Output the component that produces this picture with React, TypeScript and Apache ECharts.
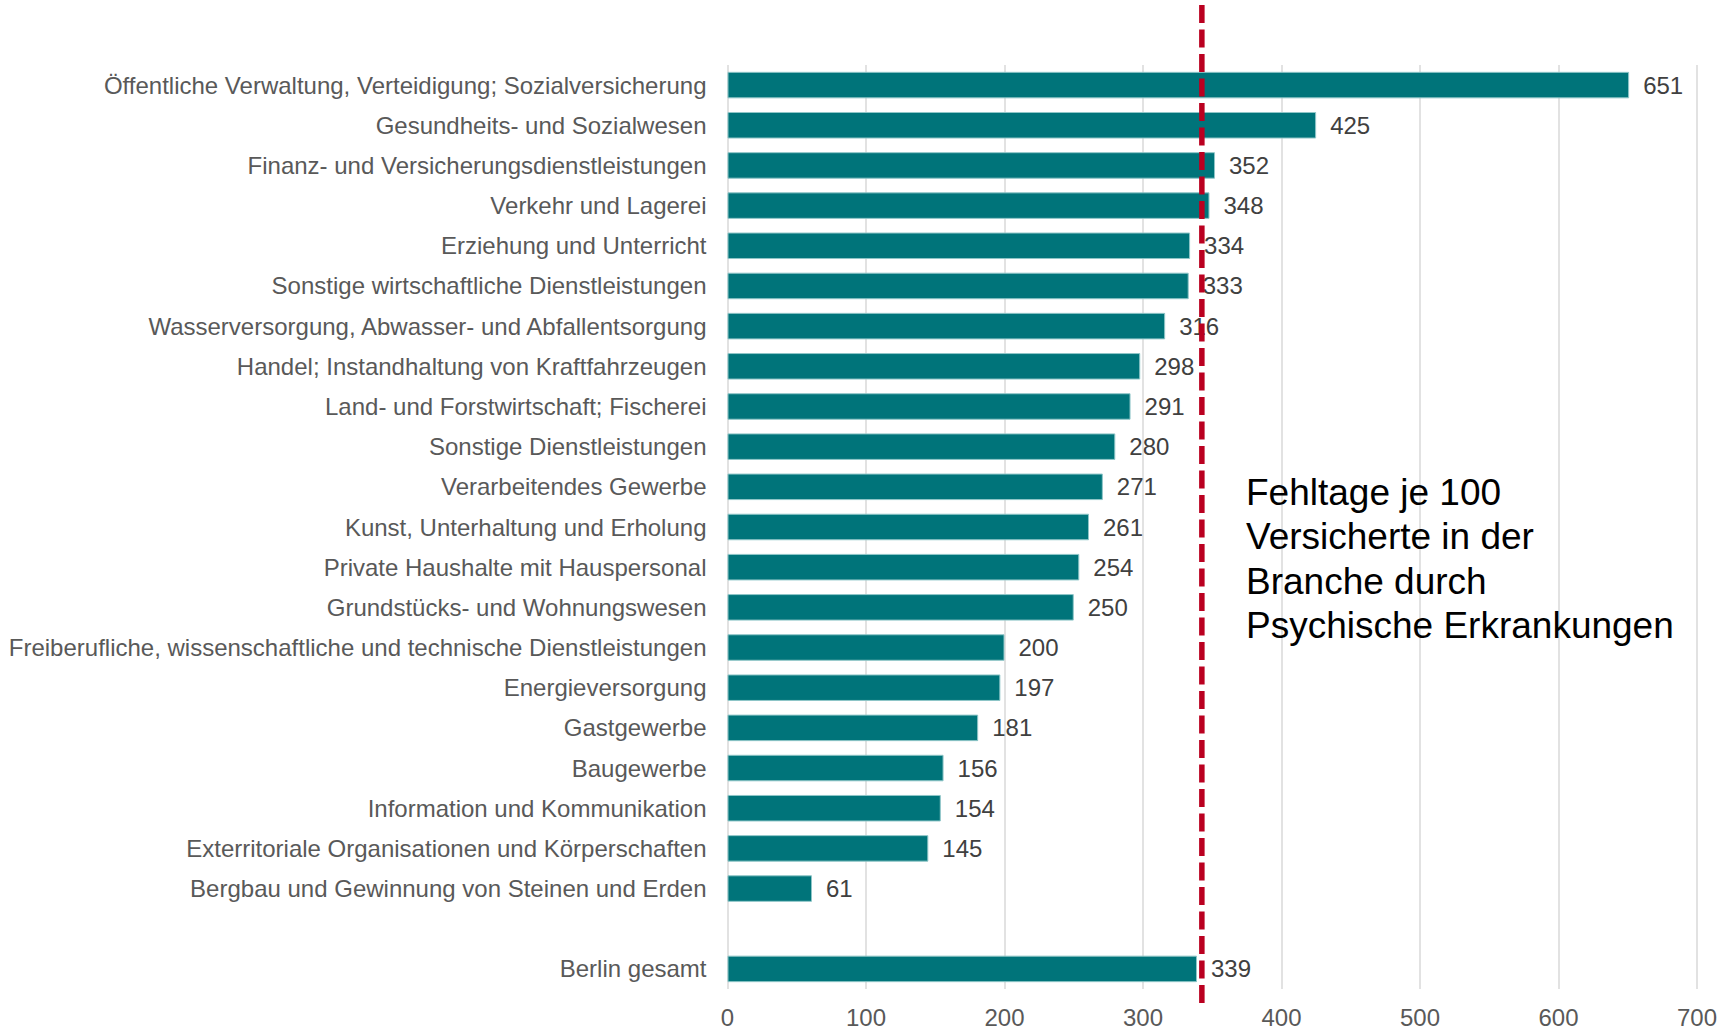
import React, { useEffect, useRef } from "react";
import * as echarts from "echarts";

// Branchen, sortiert nach Fehltagen; leerer Eintrag trennt "Berlin gesamt" ab
const categories: string[] = [
  "Öffentliche Verwaltung, Verteidigung; Sozialversicherung",
  "Gesundheits- und Sozialwesen",
  "Finanz- und Versicherungsdienstleistungen",
  "Verkehr und Lagerei",
  "Erziehung und Unterricht",
  "Sonstige wirtschaftliche Dienstleistungen",
  "Wasserversorgung, Abwasser- und Abfallentsorgung",
  "Handel; Instandhaltung von Kraftfahrzeugen",
  "Land- und Forstwirtschaft; Fischerei",
  "Sonstige Dienstleistungen",
  "Verarbeitendes Gewerbe",
  "Kunst, Unterhaltung und Erholung",
  "Private Haushalte mit Hauspersonal",
  "Grundstücks- und Wohnungswesen",
  "Freiberufliche, wissenschaftliche und technische Dienstleistungen",
  "Energieversorgung",
  "Gastgewerbe",
  "Baugewerbe",
  "Information und Kommunikation",
  "Exterritoriale Organisationen und Körperschaften",
  "Bergbau und Gewinnung von Steinen und Erden",
  "",
  "Berlin gesamt",
];

// Fehltage je 100 Versicherte durch psychische Erkrankungen
const fehltage: (number | null)[] = [
  651, 425, 352, 348, 334, 333, 316, 298, 291, 280, 271, 261, 254, 250, 200,
  197, 181, 156, 154, 145, 61, null, 339,
];

const axisMin = 0;
const axisMax = 700;
const axisInterval = 100;

// Position der gestrichelten Vergleichslinie
const referenceValue = 342.5;

const annotationLines: string[] = [
  "Fehltage je 100",
  "Versicherte in der",
  "Branche durch",
  "Psychische Erkrankungen",
];

const FONT = "'Liberation Sans', Arial, Helvetica, sans-serif";

export default function App() {
  const ref = useRef<HTMLDivElement>(null);

  useEffect(() => {
    if (!ref.current) return;
    const chart = echarts.init(ref.current, undefined, { renderer: "svg" });

    chart.setOption({
      animation: false,
      backgroundColor: "#ffffff",
      textStyle: { fontFamily: FONT },
      grid: { left: 727.5, right: 30, top: 65, bottom: 39, containLabel: false },
      xAxis: {
        type: "value",
        min: axisMin,
        max: axisMax,
        interval: axisInterval,
        axisLine: { show: false },
        axisTick: { show: false },
        splitLine: { show: true, lineStyle: { color: "#D9D9D9", width: 1.5 } },
        axisLabel: {
          color: "#595959",
          fontSize: 24,
          fontFamily: FONT,
          margin: 16,
        },
      },
      yAxis: {
        type: "category",
        data: categories,
        inverse: true,
        axisLine: { show: false },
        axisTick: { show: false },
        splitLine: { show: false },
        axisLabel: {
          color: "#595959",
          fontSize: 24,
          fontFamily: FONT,
          margin: 21,
          interval: 0,
        },
      },
      series: [
        {
          type: "bar",
          data: fehltage,
          barWidth: "66%",
          itemStyle: {
            color: "#00747A",
            borderColor: "#8fc6c8",
            borderWidth: 1,
          },
          label: {
            show: true,
            position: "right",
            distance: 14,
            color: "#404040",
            fontSize: 24,
            fontFamily: FONT,
          },
        },
      ],
    });

    const lineX = chart.convertToPixel({ xAxisIndex: 0 }, referenceValue) as number;

    chart.setOption({
      graphic: [
        {
          type: "line",
          z: 100,
          shape: { x1: lineX, y1: 5, x2: lineX, y2: 1008 },
          style: { stroke: "#BA0020", lineWidth: 5.5, lineDash: [18, 6.5] },
        },
        {
          type: "text",
          z: 100,
          x: 1246,
          y: 470,
          style: {
            text: annotationLines.join("\n"),
            fill: "#000000",
            font: `37px ${FONT}`,
            lineHeight: 44.5,
            verticalAlign: "top",
            align: "left",
          },
        },
      ],
    });

    return () => chart.dispose();
  }, []);

  return (
    <div
      ref={ref}
      style={{ position: "fixed", left: 0, top: 0, width: 1727, height: 1029 }}
    />
  );
}
